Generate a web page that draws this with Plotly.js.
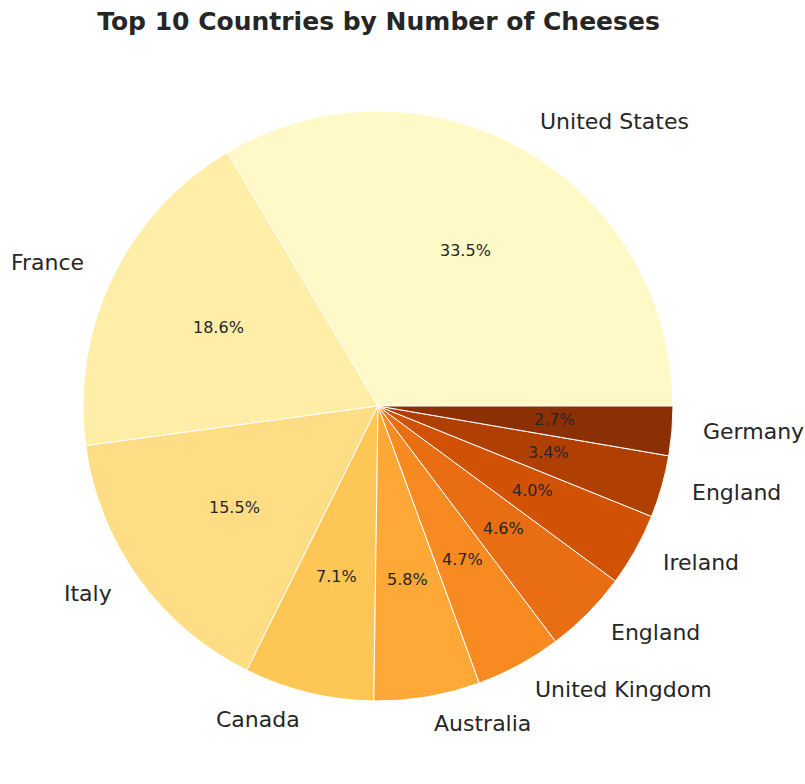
<!DOCTYPE html>
<html>
<head>
<meta charset="utf-8">
<script src="https://cdn.plot.ly/plotly-3.0.1.min.js"></script>
<style>html,body{margin:0;padding:0;background:#fff;}#chart{width:805px;height:784px;}</style>
</head>
<body>
<div id="chart"></div>
<script>
const countries = ["United States", "France", "Italy", "Canada", "Australia", "United Kingdom", "England", "Ireland", "England", "Germany"];
const shares = [33.5, 18.6, 15.5, 7.1, 5.8, 4.7, 4.6, 4.0, 3.4, 2.7];
const colors = ["#fff9c7", "#feeea8", "#fedd85", "#fec755", "#fea937", "#f78a21", "#e96d12", "#d25205", "#b03f03", "#8b3005"];

const W = 805, H = 784;
const cx = 378, cy = 406, R = 295;
const total = shares.reduce((a, b) => a + b, 0);

const annotations = [];
let cum = 0;
shares.forEach((v, i) => {
  const th = 2 * Math.PI * (cum + v / 2) / total;
  cum += v;
  const c = Math.cos(th), s = Math.sin(th);
  // category label at 1.1 R
  annotations.push({
    xref: "paper", yref: "paper",
    x: (cx + 1.1 * R * c) / W, y: 1 - (cy - 1.1 * R * s) / H,
    xanchor: c > 0 ? "left" : "right", yanchor: "middle", yshift: 2,
    text: countries[i], showarrow: false,
    font: {family: "DejaVu Sans", size: 22, color: "#262626"}
  });
  // percentage at 0.6 R
  annotations.push({
    xref: "paper", yref: "paper",
    x: (cx + 0.6 * R * c) / W, y: 1 - (cy - 0.6 * R * s) / H,
    xanchor: "center", yanchor: "middle", yshift: 1.5,
    text: (v / total * 100).toFixed(1) + "%", showarrow: false,
    font: {family: "DejaVu Sans", size: 16, color: "#262626"}
  });
});

// Plotly counterclockwise: first slice spans [rotation, rotation + v] clockwise from 12 o'clock,
// so rotate back by the first slice so that it starts at 3 o'clock going counterclockwise.
const rot = 90 - 360 * shares[0] / total;

const trace = {
  type: "pie",
  values: shares,
  labels: countries.map((c, i) => i + ":" + c),
  sort: false,
  direction: "counterclockwise",
  rotation: rot,
  textinfo: "none",
  hoverinfo: "skip",
  showlegend: false,
  marker: {colors: colors, line: {color: "#ffffff", width: 1}},
  domain: {x: [(cx - R) / W, (cx + R) / W], y: [1 - (cy + R) / H, 1 - (cy - R) / H]}
};

const layout = {
  width: W, height: H,
  margin: {l: 0, r: 0, t: 0, b: 0},
  paper_bgcolor: "#ffffff",
  showlegend: false,
  title: {
    text: "<b>Top 10 Countries by Number of Cheeses</b>",
    font: {family: "DejaVu Sans", size: 25, color: "#262626"},
    x: 378.5 / W, xanchor: "center", xref: "paper",
    y: 1 - 21 / H, yanchor: "middle", yref: "container"
  },
  annotations: annotations
};

Plotly.newPlot("chart", [trace], layout, {displayModeBar: false, staticPlot: true});
</script>
</body>
</html>
